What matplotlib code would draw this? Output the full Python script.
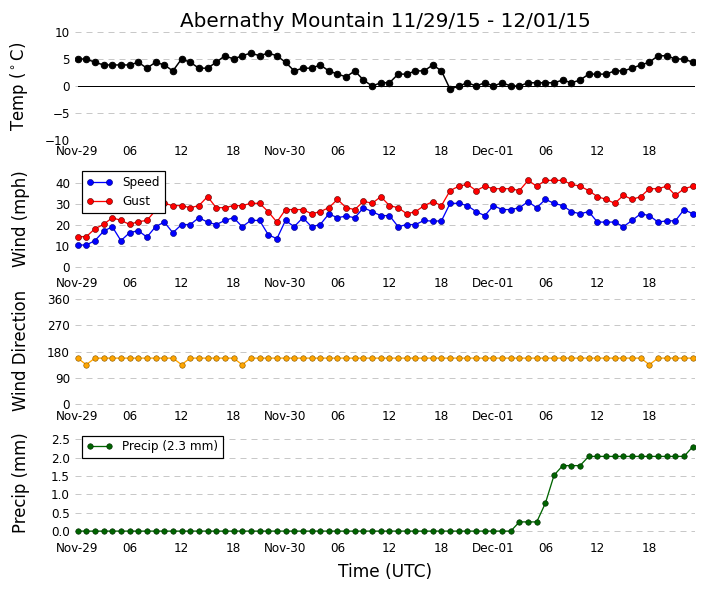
import numpy as np
import pandas as pd
import matplotlib
matplotlib.use("Agg")
import matplotlib.pyplot as plt

# ---------------- datos (lectura horaria, UTC) ----------------
inicio = "2015-11-29 00:00"
n_horas = 72
tiempos = pd.date_range(inicio, periods=n_horas, freq="h")

temp_c = [5.0, 5.0, 4.4, 3.9, 3.9, 3.9, 3.9, 4.4, 3.3, 4.4, 3.9, 2.8,
          5.0, 4.4, 3.3, 3.3, 4.4, 5.6, 5.0, 5.6, 6.1, 5.6, 6.1, 5.6,
          4.4, 2.8, 3.3, 3.3, 3.9, 2.8, 2.2, 1.7, 2.8, 1.1, 0.0, 0.6,
          0.6, 2.2, 2.2, 2.8, 2.8, 3.9, 2.8, -0.6, 0.0, 0.6, 0.0, 0.6,
          0.0, 0.6, 0.0, 0.0, 0.6, 0.6, 0.6, 0.6, 1.1, 0.6, 1.1, 2.2,
          2.2, 2.2, 2.8, 2.8, 3.3, 3.9, 4.4, 5.6, 5.6, 5.0, 5.0, 4.4]

speed = [10.4, 10.4, 12.5, 17.0, 19.2, 12.5, 16.3, 17.3, 14.2, 19.2, 21.4, 16.3,
         20.2, 20.2, 23.5, 21.4, 20.2, 22.2, 23.5, 19.2, 22.2, 22.2, 15.4, 13.4,
         22.2, 19.2, 23.5, 19.2, 20.2, 25.3, 23.5, 24.3, 23.5, 28.3, 26.4, 24.5,
         24.5, 19.2, 20.2, 20.2, 22.2, 21.8, 22.0, 30.4, 30.4, 29.3, 26.4, 24.5,
         29.3, 27.4, 27.4, 28.3, 31.2, 28.3, 32.3, 30.4, 29.3, 26.4, 25.4, 26.4,
         21.4, 21.4, 21.4, 19.2, 22.2, 25.4, 24.5, 21.4, 22.0, 22.0, 27.4, 25.4]

gust = [14.4, 14.4, 18.2, 20.3, 23.5, 22.2, 20.3, 21.6, 22.2, 27.0, 30.4, 29.3,
        29.3, 28.3, 29.3, 33.6, 28.3, 28.3, 29.3, 29.3, 30.4, 30.4, 26.4, 21.4,
        27.4, 27.4, 27.4, 25.4, 26.4, 28.3, 32.3, 28.3, 27.4, 31.4, 30.4, 33.6,
        29.3, 28.3, 25.4, 26.4, 29.3, 31.2, 29.3, 36.5, 38.6, 39.5, 36.5, 38.6,
        37.4, 37.4, 37.4, 36.5, 41.4, 38.6, 41.4, 41.4, 41.4, 39.5, 38.6, 36.5,
        33.6, 32.3, 30.4, 34.2, 32.3, 33.6, 37.4, 37.4, 38.6, 34.2, 37.4, 38.6]

direccion = [157.5, 135.0] + [157.5] * 10 + [135.0] + [157.5] * 6 + [135.0] \
    + [157.5] * 46 + [135.0] + [157.5] * 5

precip = [0.0] * 51 + [0.25, 0.25, 0.25, 0.76, 1.52, 1.78, 1.78, 1.78] \
    + [2.03] * 12 + [2.29]

etiquetas_x = ["Nov-29", "06", "12", "18", "Nov-30", "06", "12", "18",
               "Dec-01", "06", "12", "18"]
ticks_x = pd.date_range(inicio, periods=len(etiquetas_x), freq="6h")

titulo = "Abernathy Mountain 11/29/15 - 12/01/15"

# ---------------- figura ----------------
plt.rcParams["font.family"] = ["DejaVu Sans"]
plt.rcParams["mathtext.default"] = "regular"

fig, axs = plt.subplots(4, 1, figsize=(705 / 72, 593 / 72), dpi=72)
fig.subplots_adjust(left=75 / 705, right=695 / 705, top=1 - 32 / 593,
                    bottom=1 - 537 / 593, hspace=24.3 / 108)

x_izq = tiempos[0] - pd.Timedelta(minutes=18)
x_der = tiempos[-1] + pd.Timedelta(minutes=16)


def leyenda(ax):
    leg = ax.legend(loc="upper left", fontsize=12, numpoints=2, fancybox=False,
                    handlelength=2.2, borderaxespad=0.55, framealpha=1)
    leg.get_frame().set_edgecolor("black")
    leg.get_frame().set_linewidth(1.2)


for ax in axs:
    for s in ax.spines.values():
        s.set_visible(False)
    ax.tick_params(length=0, labelsize=12, pad=5)
    ax.yaxis.grid(True, linestyle=(0, (6, 5)), color="#c8c8c8", linewidth=1)
    ax.set_axisbelow(True)
    ax.set_xlim(x_izq, x_der)
    ax.set_xticks(ticks_x)
    ax.set_xticklabels(etiquetas_x)

# Temperatura
ax = axs[0]
ax.plot([tiempos[0], x_der], [0, 0], color="black", lw=1)
ax.plot(tiempos, temp_c, "-o", color="black", lw=1.5, ms=6.5, mec="black")
ax.set_ylim(-10, 10)
ax.set_yticks([-10, -5, 0, 5, 10])
ax.set_yticklabels(["\u221210", "\u22125", "0", "5", "10"])
ax.set_ylabel("Temp ($^\\circ$C)", fontsize=16.5)
ax.set_title(titulo, fontsize=20, pad=5)

# Viento
ax = axs[1]
ax.plot(tiempos, speed, "-o", color="#0000ff", lw=1.3, ms=6, mec="#000080",
        mew=0.6, label="Speed")
ax.plot(tiempos, gust, "-o", color="#ff0000", lw=1.3, ms=6, mec="#600000",
        mew=0.6, label="Gust")
ax.set_ylim(-2.7, 49.1)
ax.set_yticks([0, 10, 20, 30, 40])
ax.set_ylabel("Wind (mph)", fontsize=16.5)
leyenda(ax)

# Direccion
ax = axs[2]
ax.plot(tiempos, direccion, "-o", color="#ffa500", lw=1.3, ms=5.5,
        mec="#8a5a00", mew=0.6)
ax.set_ylim(-2, 368)
ax.set_yticks([0, 90, 180, 270, 360])
ax.set_ylabel("Wind Direction", fontsize=16.5)

# Precipitacion
ax = axs[3]
ax.plot(tiempos, precip, "-o", color="#006400", lw=1.3, ms=5.5,
        mec="#002a00", mew=0.6, label="Precip (%.1f mm)" % precip[-1])
ax.set_ylim(-0.16, 2.775)
ax.set_yticks([0.0, 0.5, 1.0, 1.5, 2.0, 2.5])
ax.set_yticklabels(["0.0", "0.5", "1.0", "1.5", "2.0", "2.5"])
ax.set_ylabel("Precip (mm)", fontsize=16.5)
ax.set_xlabel("Time (UTC)", fontsize=17, labelpad=8)
leyenda(ax)

for ax in axs:
    ax.yaxis.set_label_coords(-0.073, 0.5)

plt.savefig("out.png", dpi=72)
